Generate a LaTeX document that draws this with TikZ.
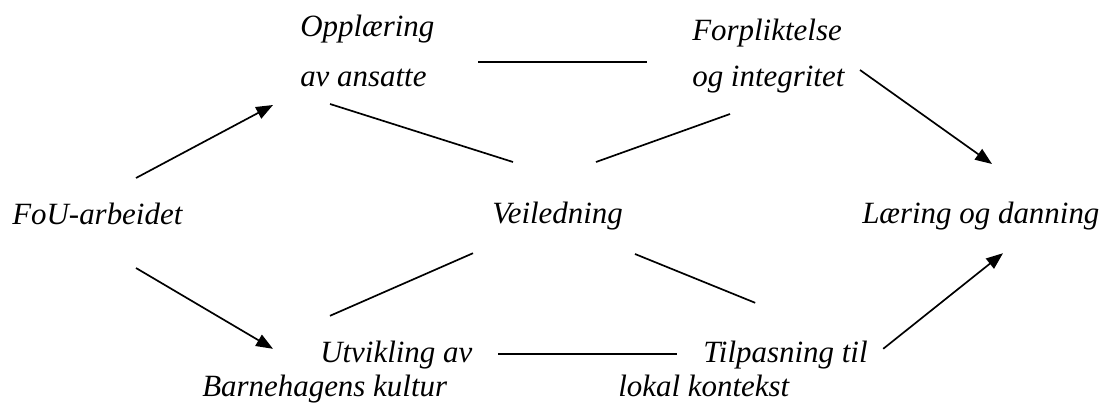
\documentclass[tikz,border=0pt]{standalone}
\usepackage{fontspec}
\setmainfont{Liberation Serif}
\usetikzlibrary{arrows.meta}

\tikzset{
	lbl/.style={anchor=base west, inner sep=0pt, font=\itshape\fontsize{22}{26}\selectfont},
	conn/.style={line width=1.2pt},
	arr/.style={conn, -{Triangle[length=0.42cm,width=0.32cm]}}
}

\begin{document}
\begin{tikzpicture}
		\useasboundingbox (0,0) rectangle (27.6,10.35);
		\node[lbl] (oppA) at (7.5,9.45) {Opplæring};
		\node[lbl] (oppB) at (7.5,8.2) {av ansatte};
		\node[lbl] (forpA) at (17.3,9.35) {Forpliktelse};
		\node[lbl] (forpB) at (17.3,8.2) {og integritet};
		\node[lbl] (fou) at (0.3,4.75) {FoU-arbeidet};
		\node[lbl] (veil) at (12.3,4.76) {Veiledning};
		\node[lbl] (laer) at (21.55,4.76) {Læring og danning};
		\node[lbl] (utvA) at (8.0,1.28) {Utvikling av};
		\node[lbl] (utvB) at (5.05,0.45) {Barnehagens kultur};
		\node[lbl] (tilpA) at (17.58,1.28) {Tilpasning til};
		\node[lbl] (tilpB) at (15.45,0.45) {lokal kontekst};
		% arrows
		\draw[arr] ([shift={(3.1,1.15)}]fou.base west) -- ([shift={(-0.675,-0.475)}]oppB.base west);
		\draw[arr] ([shift={(3.1,-1.1)}]fou.base west) -- ([shift={(-1.175,0.35)}]utvA.base west);
		\draw[arr] ([shift={(4.2,0.4)}]forpB.base west) -- ([shift={(3.25,1.49)}]laer.base west);
		\draw[arr] ([shift={(4.5,0.35)}]tilpA.base west) -- ([shift={(3.525,-0.74)}]laer.base west);
		% lines
		\draw[conn] ([shift={(4.45,0.6)}]oppB.base west) -- ([shift={(-1.125,0.6)}]forpB.base west);
		\draw[conn] ([shift={(0.75,-0.45)}]oppB.base west) -- ([shift={(0.525,1.54)}]veil.base west);
		\draw[conn] ([shift={(0.95,-0.7)}]forpB.base west) -- ([shift={(2.6,1.54)}]veil.base west);
		\draw[conn] ([shift={(-0.475,-0.74)}]veil.base west) -- ([shift={(0.25,1.175)}]utvA.base west);
		\draw[conn] ([shift={(3.575,-0.76)}]veil.base west) -- ([shift={(1.3,1.5)}]tilpA.base west);
		\draw[conn] ([shift={(4.45,0.225)}]utvA.base west) -- ([shift={(-0.65,0.225)}]tilpA.base west);
	\end{tikzpicture}
\end{document}
